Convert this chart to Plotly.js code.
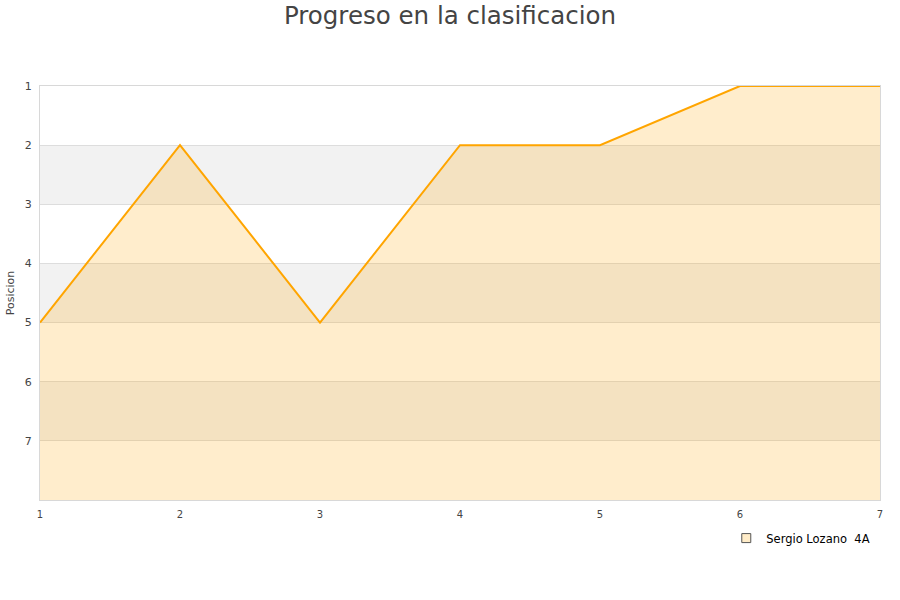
<!DOCTYPE html>
<html><head><meta charset="utf-8">
<script src="https://cdn.plot.ly/plotly-3.0.1.min.js"></script>
<style>body{margin:0;}#chart{width:900px;height:600px;}</style>
</head><body><div id="chart"></div>
<script>
const jornadas = [1, 2, 3, 4, 5, 6, 7];
const posiciones = [5, 2, 5, 2, 2, 1, 1];
const fondo = [8, 8, 8, 8, 8, 8, 8];
const serieNombre = 'Sergio Lozano  4A';
const bandas = [[2, 3], [4, 5], [6, 7]];
const ticksY = [1, 2, 3, 4, 5, 6, 7];

const traces = [
  {x: jornadas, y: fondo, mode: 'lines', line: {width: 0}, hoverinfo: 'skip', showlegend: false},
  {x: jornadas, y: posiciones, mode: 'lines', fill: 'tonexty', fillcolor: 'rgba(255,165,0,0.2)',
   line: {color: '#FFA500', width: 2}, name: serieNombre, showlegend: false},
  {x: [null], y: [null], mode: 'markers', name: serieNombre,
   marker: {symbol: 'square', size: 9, color: '#FFECC8', line: {color: '#555', width: 1}}}
];

const shapes = bandas.map(b => ({type: 'rect', xref: 'paper', yref: 'y', x0: 0, x1: 1, y0: b[0], y1: b[1],
  fillcolor: '#f2f2f2', line: {width: 0}, layer: 'below'}));

const layout = {
  width: 900, height: 600,
  margin: {l: 40, r: 20, t: 86, b: 100},
  paper_bgcolor: '#fff', plot_bgcolor: '#fff',
  title: {text: 'Progreso en la clasificacion', x: 0.5, xanchor: 'center', y: 0.975, yanchor: 'middle',
    font: {family: 'DejaVu Sans, sans-serif', size: 24.5, color: '#444'}},
  font: {family: 'DejaVu Sans, sans-serif', size: 11, color: '#444'},
  xaxis: {range: [1, 7], tickvals: jornadas, showgrid: false, zeroline: false,
    showline: true, linecolor: '#d8d8d8', mirror: true, ticks: '', tickfont: {size: 10},
    ticklabelstandoff: 5},
  yaxis: {range: [8, 1], tickvals: ticksY, showgrid: true, gridcolor: '#dddddd', zeroline: false,
    showline: true, linecolor: '#d8d8d8', mirror: true, ticks: '', tickfont: {size: 11},
    ticklabelstandoff: 5,
    title: {text: 'Posicion', font: {size: 11}, standoff: 7}},
  shapes: shapes,
  showlegend: true,
  legend: {x: 0.817, y: -0.092, xanchor: 'left', yanchor: 'middle', font: {size: 11.5, color: '#000'}, bgcolor: 'rgba(0,0,0,0)'}
};

Plotly.newPlot('chart', traces, layout, {displayModeBar: false});
</script></body></html>
